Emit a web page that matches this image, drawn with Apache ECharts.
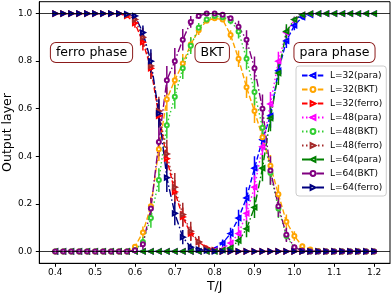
<!DOCTYPE html>
<html><head><meta charset="utf-8">
<script src="https://cdn.jsdelivr.net/npm/echarts@6/dist/echarts.min.js"></script>
<style>html,body{margin:0;padding:0;background:#fff}#c{width:392px;height:297px}</style>
</head><body><div id="c"></div>
<script>
const T = [0.40,0.42,0.44,0.46,0.48,0.50,0.52,0.54,0.56,0.58,0.60,0.62,0.64,0.66,0.68,0.70,0.72,0.74,0.76,0.78,0.80,0.82,0.84,0.86,0.88,0.90,0.92,0.94,0.96,0.98,1.00,1.02,1.04,1.06,1.08,1.10,1.12,1.14,1.16,1.18,1.20];
const xTicks = [0.4,0.5,0.6,0.7,0.8,0.9,1.0,1.1,1.2];
const yTicks = [0,0.2,0.4,0.6,0.8,1.0];
const seriesNames = ['L=32(para)','L=32(BKT)','L=32(ferro)','L=48(para)','L=48(BKT)','L=48(ferro)','L=64(para)','L=64(BKT)','L=64(ferro)'];
const phaseLabels = ['ferro phase','BKT','para phase'];

const para32  = [0,0,0,0,0,0,0,0,0,0,0,0,0,0,0,0,0,0,0, 0.003,0.01,0.035,0.075,0.14,0.225,0.35,0.47,0.57,0.76,0.885,0.95,0.985,0.995, 1,1,1,1,1,1,1,1];
const bkt32   = [0,0,0,0,0,0,0,0,0,0, 0.02,0.08,0.19,0.43,0.64,0.72,0.79,0.87,0.93,0.97,0.98,0.975,0.91,0.81,0.69,0.59,0.48,0.36,0.24,0.125,0.065,0.022,0.008, 0.002,0,0,0,0,0,0,0];
const ferro32 = [1,1,1,1,1,1,1,1,1, 0.99,0.96,0.88,0.77,0.57,0.39,0.25,0.145,0.075,0.04,0.015,0.005, 0,0,0,0,0,0,0,0,0,0,0,0,0,0,0,0,0,0,0,0];
const para48  = [0,0,0,0,0,0,0,0,0,0,0,0,0,0,0,0,0,0,0,0, 0.003,0.01,0.035,0.075,0.16,0.27,0.44,0.62,0.80,0.92,0.975,0.995, 1,1,1,1,1,1,1,1,1];
const bkt48   = [0,0,0,0,0,0,0,0,0,0, 0.005,0.04,0.14,0.30,0.53,0.65,0.77,0.865,0.94,0.975,0.99,0.985,0.97,0.925,0.81,0.67,0.52,0.33,0.18,0.065,0.015,0.003, 0,0,0,0,0,0,0,0,0];
const ferro48 = [1,1,1,1,1,1,1,1,1, 0.995,0.975,0.90,0.78,0.59,0.41,0.27,0.155,0.085,0.04,0.012,0.003, 0,0,0,0,0,0,0,0,0,0,0,0,0,0,0,0,0,0,0,0];
const para64  = [0,0,0,0,0,0,0,0,0,0,0,0,0,0,0,0,0,0,0,0,0, 0.005,0.015,0.045,0.095,0.185,0.35,0.56,0.75,0.925,0.975,0.995, 1,1,1,1,1,1,1,1,1];
const bkt64   = [0,0,0,0,0,0,0,0,0,0, 0.005,0.03,0.18,0.46,0.72,0.80,0.89,0.965,0.99,1.0,1.0,0.995,0.98,0.945,0.89,0.77,0.60,0.34,0.19,0.07,0.018,0.003, 0,0,0,0,0,0,0,0,0];
const ferro64 = [1,1,1,1,1,1,1,1,1,0.998, 0.99,0.92,0.80,0.58,0.31,0.16,0.06,0.018,0.008,0.003, 0,0,0,0,0,0,0,0,0,0,0,0,0,0,0,0,0,0,0,0,0];

const errPara32  = [0,0,0,0,0,0,0,0,0,0,0,0,0,0,0,0,0,0,0, 0.003,0.008,0.015,0.025,0.035,0.045,0.05,0.05,0.05,0.04,0.03,0.02,0.01,0.004, 0,0,0,0,0,0,0,0];
const errBkt32   = [0,0,0,0,0,0,0,0,0,0, 0.01,0.025,0.04,0.05,0.05,0.045,0.04,0.03,0.02,0.01,0.008,0.01,0.02,0.035,0.045,0.05,0.05,0.045,0.04,0.03,0.02,0.01,0.005, 0,0,0,0,0,0,0,0];
const errFerro32 = [0,0,0,0,0,0,0,0,0, 0.008,0.02,0.035,0.045,0.05,0.05,0.05,0.04,0.03,0.02,0.01,0.004, 0,0,0,0,0,0,0,0,0,0,0,0,0,0,0,0,0,0,0,0];
const errPara48  = [0,0,0,0,0,0,0,0,0,0,0,0,0,0,0,0,0,0,0,0, 0.003,0.008,0.02,0.03,0.045,0.05,0.055,0.05,0.04,0.025,0.012,0.004, 0,0,0,0,0,0,0,0,0];
const errBkt48   = [0,0,0,0,0,0,0,0,0,0, 0.005,0.02,0.04,0.05,0.055,0.05,0.045,0.035,0.02,0.01,0.005,0.008,0.015,0.03,0.045,0.055,0.055,0.05,0.04,0.02,0.008, 0,0,0,0,0,0,0,0,0,0];
const errFerro48 = [0,0,0,0,0,0,0,0,0, 0.008,0.02,0.04,0.055,0.06,0.06,0.06,0.05,0.04,0.025,0.01,0.003, 0,0,0,0,0,0,0,0,0,0,0,0,0,0,0,0,0,0,0,0];
const errPara64  = [0,0,0,0,0,0,0,0,0,0,0,0,0,0,0,0,0,0,0,0,0, 0.004,0.01,0.02,0.035,0.045,0.055,0.055,0.05,0.03,0.012,0.004, 0,0,0,0,0,0,0,0,0];
const errBkt64   = [0,0,0,0,0,0,0,0,0,0, 0.005,0.02,0.045,0.06,0.06,0.055,0.045,0.025,0.01,0.003,0,0.004,0.01,0.025,0.04,0.05,0.06,0.06,0.045,0.03,0.01,0.003, 0,0,0,0,0,0,0,0,0];
const errFerro64 = [0,0,0,0,0,0,0,0,0, 0.003,0.01,0.03,0.05,0.06,0.06,0.05,0.03,0.015,0.008,0.003, 0,0,0,0,0,0,0,0,0,0,0,0,0,0,0,0,0,0,0,0,0];

const values = [para32,bkt32,ferro32,para48,bkt48,ferro48,para64,bkt64,ferro64];
const errors = [errPara32,errBkt32,errFerro32,errPara48,errBkt48,errFerro48,errPara64,errBkt64,errFerro64];
const colors = ['#0000ff','#ffa500','#ff0000','#ff00ff','#32cd32','#a52a2a','#008000','#800080','#000080'];
const dashes = [[5.5,2.4],[1.5,2.5],[8,2.4,1.5,2.4]];
const symbols = [['emptyTriangle',90],['emptyCircle',0],['emptyTriangle',-90]];

const FONT = 'DejaVu Sans';
const series = [];
values.forEach((vals, k) => {
  const col = colors[k];
  const sz = Math.floor(k/3), kind = k%3;
  series.push({
    name: seriesNames[k] + '_err', type: 'custom', z: 1, clip: true, silent: true,
    data: T.map((t,i) => [t, vals[i], errors[k][i]]),
    encode: {x:0, y:1},
    renderItem: function(params, api){
      const x = api.value(0), y = api.value(1), e = api.value(2);
      if (!e) return null;
      const p1 = api.coord([x, y-e]), p2 = api.coord([x, y+e]);
      return {type:'line', shape:{x1:p1[0],y1:p1[1],x2:p2[0],y2:p2[1]}, style:{stroke:col, lineWidth:1.5}};
    }
  });
  const s = {
    name: seriesNames[k], type: 'line', z: 2,
    data: T.map((t,i) => [t, vals[i]]),
    symbol: symbols[kind][0], symbolRotate: symbols[kind][1], symbolSize: 4, showSymbol: true,
    lineStyle: {color: col, width: 1.4, type: dashes[sz]},
    itemStyle: {color: col, borderWidth: 1},
    animation: false
  };
  if (k === 0) {
    s.markLine = {silent: true, symbol: 'none', label: {show:false},
      lineStyle: {color:'#000', width: 0.8, type: 'solid'},
      data: [{yAxis: 0}, {yAxis: 1}], animation: false};
  }
  series.push(s);
});

const chart = echarts.init(document.getElementById('c'), null, {renderer: 'canvas'});
const boxStyle = (txt, x, y) => ({
  type: 'text', x: x, y: y, z: 100,
  style: {text: txt, font: '12.5px "DejaVu Sans"', fill: '#000', align: 'center', verticalAlign: 'middle',
    backgroundColor: '#fff', borderColor: '#8b1a1a', borderWidth: 1, borderRadius: 5, padding: [3, 5, 3, 5]}
});
chart.setOption({
  animation: false,
  backgroundColor: '#fff',
  grid: {left: 39.3, right: 2, top: 1.7, bottom: 33.7, show: true, borderColor: '#000', borderWidth: 1,
    backgroundColor: 'transparent', containLabel: false, outerBoundsMode: 'none'},
  xAxis: {
    type: 'value', min: 0.36, max: 1.24,
    name: 'T/J', nameLocation: 'middle', nameGap: 17, nameMoveOverlap: false,
    nameTextStyle: {fontFamily: FONT, fontSize: 12.5, color: '#000'},
    axisLine: {show: true, onZero: false, lineStyle: {color: '#000', width: 1}},
    axisTick: {show: true, length: 3.5, customValues: xTicks, lineStyle: {color: '#000'}},
    axisLabel: {customValues: xTicks, margin: 5, fontFamily: FONT, fontSize: 9, color: '#000', formatter: v => v.toFixed(1)},
    splitLine: {show: false}
  },
  yAxis: {
    type: 'value', min: -0.05, max: 1.05,
    name: 'Output layer', nameLocation: 'middle', nameGap: 25, nameMoveOverlap: false,
    nameTextStyle: {fontFamily: FONT, fontSize: 12.5, color: '#000'},
    axisLine: {show: true, onZero: false, lineStyle: {color: '#000', width: 1}},
    axisTick: {show: true, length: 3.5, customValues: yTicks, lineStyle: {color: '#000'}},
    axisLabel: {customValues: yTicks, margin: 7, fontFamily: FONT, fontSize: 9, color: '#000', formatter: v => v.toFixed(1)},
    splitLine: {show: false}
  },
  legend: {
    data: seriesNames, orient: 'vertical', left: 296, top: 66,
    itemWidth: 22, itemHeight: 6, itemGap: 5, padding: [5, 4, 4, 5],
    backgroundColor: '#fff', borderColor: '#ccc', borderWidth: 1, borderRadius: 3,
    textStyle: {fontFamily: FONT, fontSize: 9, color: '#000', padding: [0,0,0,1]},
    selectedMode: false
  },
  graphic: [
    boxStyle(phaseLabels[0], 91.5, 52.5),
    boxStyle(phaseLabels[1], 212.2, 52.5),
    boxStyle(phaseLabels[2], 334.5, 52.5)
  ],
  series: series
});
</script></body></html>
